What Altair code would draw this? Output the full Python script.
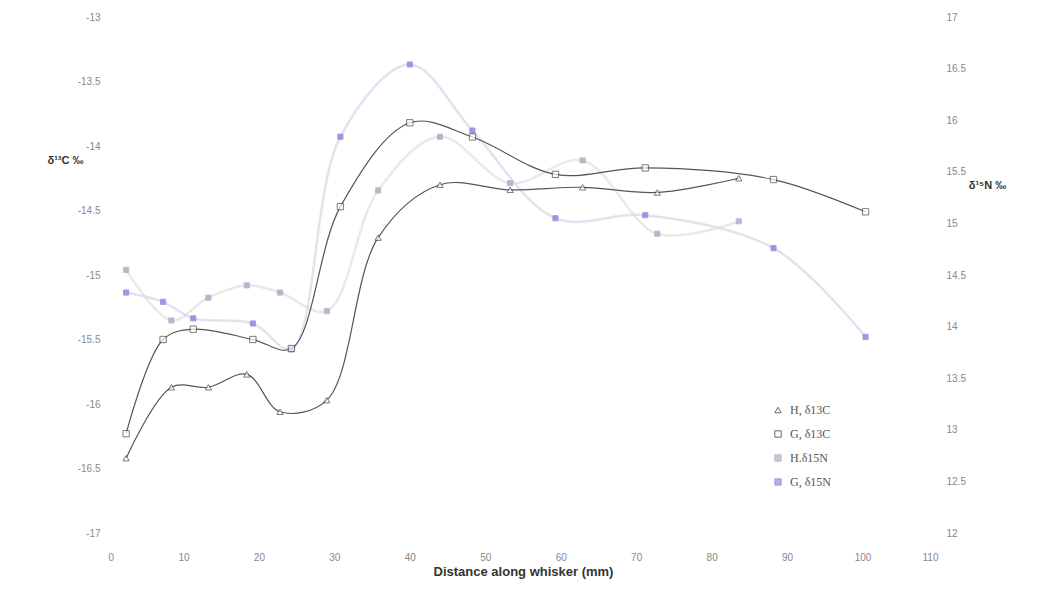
import altair as alt
import pandas as pd

# ---- data ----
x_ticks = [0, 10, 20, 30, 40, 50, 60, 70, 80, 90, 100, 110]
c_ticks = [-17, -16.5, -16, -15.5, -15, -14.5, -14, -13.5, -13]
n_ticks = [12, 12.5, 13, 13.5, 14, 14.5, 15, 15.5, 16, 16.5, 17]

H_x = [2.4, 8.4, 13.3, 18.4, 22.8, 29.0, 35.8, 44.0, 53.3, 62.9, 72.8, 83.6]
G_x = [2.4, 7.3, 11.3, 19.2, 24.3, 30.8, 40.0, 48.3, 59.3, 71.2, 88.2, 100.4]

H_d13C = [-16.42, -15.87, -15.87, -15.77, -16.06, -15.97, -14.71, -14.30, -14.34, -14.32, -14.36, -14.25]
G_d13C = [-16.23, -15.50, -15.42, -15.50, -15.57, -14.47, -13.82, -13.93, -14.22, -14.17, -14.26, -14.51]
H_d15N = [14.55, 14.06, 14.28, 14.40, 14.33, 14.15, 15.32, 15.84, 15.39, 15.61, 14.90, 15.02]
G_d15N = [14.33, 14.24, 14.08, 14.03, 13.78, 15.84, 16.54, 15.90, 15.05, 15.08, 14.76, 13.90]

series_names = ["H, δ13C", "G, δ13C", "H.δ15N", "G, δ15N"]

rows = []
for xs, vs, s, iso in [(H_x, H_d13C, series_names[0], "C"),
                       (G_x, G_d13C, series_names[1], "C"),
                       (H_x, H_d15N, series_names[2], "N"),
                       (G_x, G_d15N, series_names[3], "N")]:
    for x, v in zip(xs, vs):
        rows.append({"x": x, "v": v, "series": s, "iso": iso})
df = pd.DataFrame(rows)

FONT = "Liberation Sans"
common_axis = dict(grid=False, domain=False, domainOpacity=0, ticks=False, tickSize=0,
                   labelFont=FONT, labelFontSize=10, labelColor="#888888",
                   titleFont=FONT)

x_enc = alt.X("x:Q", scale=alt.Scale(domain=[0, 110], nice=False),
              axis=alt.Axis(values=x_ticks, title="Distance along whisker (mm)",
                            labelPadding=19, titlePadding=3,
                            titleFontSize=13, titleFontWeight="bold",
                            titleColor="#333", **common_axis))

axis_c = alt.Axis(values=c_ticks, orient="left", title="δ¹³C ‰",
                  labelExpr="'' + datum.value", labelPadding=8,
                  titleAngle=0, titleX=-43, titleY=143, titleAlign="center",
                  titleBaseline="middle", titleFontSize=11, titleFontWeight="bold",
                  titleColor="#333", **common_axis)
axis_n = alt.Axis(values=n_ticks, orient="right", title="δ¹⁵N ‰",
                  labelExpr="'' + datum.value", labelPadding=8,
                  titleAngle=0, titleX=49, titleY=168, titleAlign="center",
                  titleBaseline="middle", titleFontSize=11, titleFontWeight="bold",
                  titleColor="#333", **common_axis)

y_c = alt.Y("v:Q", scale=alt.Scale(domain=[-17, -13], nice=False), axis=axis_c)
y_n = alt.Y("v:Q", scale=alt.Scale(domain=[12, 17], nice=False), axis=axis_n)

leg = alt.Legend(title=None, orient="none", legendX=664, legendY=387,
                 labelFont="Liberation Serif", labelFontSize=12, labelColor="#555",
                 symbolSize=40, symbolStrokeWidth=1, rowPadding=12, labelOffset=6)
shape_enc = alt.Shape("series:N", scale=alt.Scale(domain=series_names,
                      range=["triangle-up", "square", "square", "square"]), legend=leg)
fill_enc = alt.Fill("series:N", scale=alt.Scale(domain=series_names,
                    range=["white", "white", "#a8a8c4", "#8484e0"]), legend=leg)
stroke_enc = alt.Stroke("series:N", scale=alt.Scale(domain=series_names,
                        range=["#444444", "#444444", "#a8a8c4", "#8484e0"]), legend=leg)

base = alt.Chart(df)


def line(series, color, width, opacity=1.0):
    return base.transform_filter(alt.datum.series == series).mark_line(
        interpolate="catmull-rom", color=color, strokeWidth=width, opacity=opacity
    )


line_HN = line(series_names[2], "#dadada", 2.5, 0.6).encode(x=x_enc, y=y_n)
line_GN = line(series_names[3], "#d6d6ea", 2.5, 0.7).encode(x=x_enc, y=y_n)
pts_N = base.transform_filter(alt.datum.iso == "N").mark_point(
    filled=False, size=26, strokeWidth=1, opacity=0.8
).encode(x=x_enc, y=y_n, shape=shape_enc, fill=fill_enc, stroke=stroke_enc)

line_HC = line(series_names[0], "#555555", 1.2).encode(x=x_enc, y=y_c)
line_GC = line(series_names[1], "#555555", 1.2).encode(x=x_enc, y=y_c)
pts_C = base.transform_filter(alt.datum.iso == "C").mark_point(
    filled=False, size=40, strokeWidth=1
).encode(x=x_enc, y=y_c, shape=shape_enc, fill=fill_enc, stroke=stroke_enc)

layer_n = alt.layer(line_HN, line_GN, pts_N)
layer_c = alt.layer(line_HC, line_GC, pts_C)

chart = alt.layer(layer_n, layer_c).resolve_scale(y="independent").properties(
    width=830, height=516,
    autosize=alt.AutoSizeParams(type="none"),
    padding={"left": 100, "top": 9, "right": 108, "bottom": 49},
    view=alt.ViewBackground(strokeOpacity=0, strokeWidth=0),
).configure_view(strokeOpacity=0, strokeWidth=0).configure_axis(
    grid=False, domain=False, ticks=False
).configure_axisX(domain=False).configure_axisY(domain=False).configure(
    background="white"
)

chart.save("out.html", embed_options={"renderer": "svg", "actions": False})
